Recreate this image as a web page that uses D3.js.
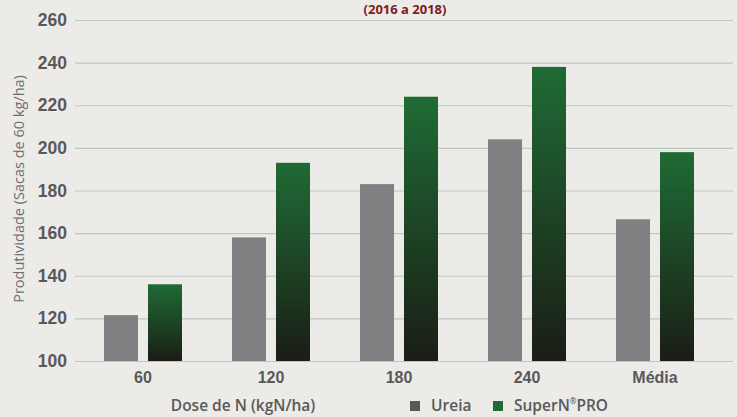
<!DOCTYPE html>
<html>
<head>
<meta charset="utf-8">
<script src="https://cdn.jsdelivr.net/npm/d3@7"></script>
<style>
  body { margin: 0; background: #ecebe7; }
  svg { display: block; font-family: "Open Sans", sans-serif; }
</style>
</head>
<body>
<svg id="chart"></svg>
<script>
const categories = ["60", "120", "180", "240", "Média"];
const seriesNames = ["Ureia", "SuperN®PRO"];
const ureia = [121.5, 158, 183, 204, 166.5];
const superN = [136, 193, 224, 238, 198];
const yTicks = [100, 120, 140, 160, 180, 200, 220, 240, 260];

const width = 737, height = 417;
const margin = { top: 20, right: 0, bottom: 56, left: 79 };
const innerW = 640;
const innerH = height - margin.top - margin.bottom;

const svg = d3.select("#chart").attr("width", width).attr("height", height);

svg.append("rect").attr("width", width).attr("height", height).attr("fill", "#ecebe7");

// gradient for the green bars
const grad = svg.append("defs").append("linearGradient")
  .attr("id", "greenGrad").attr("x1", 0).attr("y1", 0).attr("x2", 0).attr("y2", 1);
grad.append("stop").attr("offset", "0%").attr("stop-color", "#1f6b35");
grad.append("stop").attr("offset", "100%").attr("stop-color", "#1b1d15");

const chart = svg.append("g").attr("transform", `translate(${margin.left},${margin.top})`);

const x = d3.scaleBand().domain(categories).range([0, innerW]).paddingInner(0).paddingOuter(0);
const xInner = d3.scaleBand().domain(seriesNames).range([25, 103]).paddingInner(0.227);
const y = d3.scaleLinear().domain([100, 260]).range([innerH, 0]);

// gridlines + y labels
const yAxis = chart.append("g")
  .call(d3.axisLeft(y).tickValues(yTicks).tickSize(-(width - margin.left)).tickPadding(12));
yAxis.select(".domain").remove();
yAxis.selectAll("line").attr("stroke", "#b8c9c0").attr("stroke-width", 1.2).attr("transform", "translate(-4,0)");
yAxis.selectAll("text")
  .attr("fill", "#58595b").attr("font-size", 17.5).attr("font-weight", 600);

const rows = categories.map((c, i) => ({ cat: c, values: [ureia[i], superN[i]] }));

const groups = chart.selectAll(".grp").data(rows).join("g")
  .attr("transform", d => `translate(${x(d.cat)},0)`);

groups.selectAll("rect")
  .data(d => d.values.map((v, j) => ({ key: seriesNames[j], v })))
  .join("rect")
  .attr("x", d => xInner(d.key))
  .attr("width", xInner.bandwidth())
  .attr("y", d => y(d.v))
  .attr("height", d => y(100) - y(d.v))
  .attr("fill", d => d.key === "Ureia" ? "#7f8082" : "url(#greenGrad)");

// x labels
const xAxis = chart.append("g").attr("transform", `translate(0,${innerH})`)
  .call(d3.axisBottom(x).tickSize(0).tickPadding(11));
xAxis.select(".domain").remove();
xAxis.selectAll("text")
  .attr("fill", "#58595b").attr("font-size", 16).attr("font-weight", 600);

// y axis title
svg.append("text")
  .attr("transform", "rotate(-90)")
  .attr("x", -189).attr("y", 24)
  .attr("text-anchor", "middle")
  .attr("fill", "#6d6e70").attr("font-size", 14.5)
  .text("Produtividade (Sacas de 60 kg/ha)");

// x axis title
svg.append("text")
  .attr("x", 243).attr("y", 411)
  .attr("text-anchor", "middle")
  .attr("fill", "#58595b").attr("font-size", 15.5).attr("font-weight", 600)
  .text("Dose de N (kgN/ha)");

// title (only its last line shows at the top)
svg.append("text")
  .attr("x", 405).attr("y", 14)
  .attr("text-anchor", "middle")
  .attr("fill", "#7c1c22").attr("font-size", 13).attr("font-weight", 700)
  .text("(2016 a 2018)");

// legend
const legend = svg.append("g").attr("transform", "translate(410,401)");
const legendItems = [
  { name: "Ureia", fill: "#58595b", dx: 0 },
  { name: "SuperN", sup: "®", tail: "PRO", fill: "#1f6b35", dx: 83 }
];
const li = legend.selectAll("g").data(legendItems).join("g")
  .attr("transform", d => `translate(${d.dx},0)`);
li.append("rect").attr("width", 10).attr("height", 10).attr("fill", d => d.fill);
const lt = li.append("text").attr("x", 21).attr("y", 10)
  .attr("fill", "#58595b").attr("font-size", 15.5).attr("font-weight", 600);
lt.append("tspan").text(d => d.name);
lt.filter(d => d.sup).append("tspan").attr("font-size", 8).attr("dy", -7).text(d => d.sup);
lt.filter(d => d.sup).append("tspan").attr("dy", 7).text(d => d.tail);
</script>
</body>
</html>
